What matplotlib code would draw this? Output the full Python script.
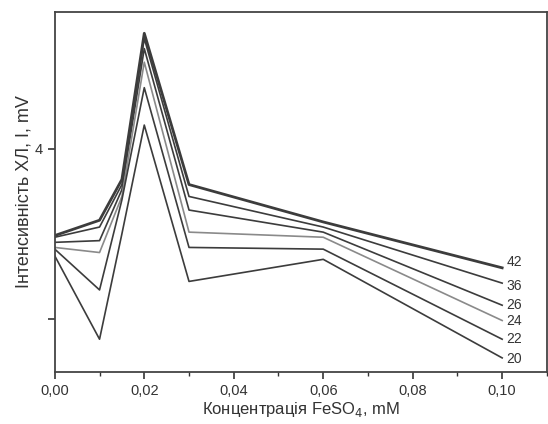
import matplotlib.pyplot as plt
from matplotlib.ticker import FixedLocator, MultipleLocator, FuncFormatter

plt.rcParams['font.family'] = ['Liberation Sans', 'DejaVu Sans']

# concentration of FeSO4, mM
conc = [0.0, 0.01, 0.015, 0.02, 0.03, 0.06, 0.10]

# chemiluminescence intensity, mV (one curve per label)
i42 = [3.49, 3.58, 3.82, 4.68, 3.79, 3.57, 3.30]
i36 = [3.48, 3.54, 3.79, 4.65, 3.72, 3.54, 3.21]
i26 = [3.45, 3.46, 3.76, 4.59, 3.64, 3.51, 3.08]
i24 = [3.42, 3.39, 3.72, 4.51, 3.51, 3.48, 2.99]
i22 = [3.41, 3.17, 3.70, 4.36, 3.42, 3.41, 2.88]
i20 = [3.37, 2.88, 3.50, 4.14, 3.22, 3.35, 2.77]

curves = [("42", i42), ("36", i36), ("26", i26),
          ("24", i24), ("22", i22), ("20", i20)]
label_dy = {"42": 4, "36": -2, "26": 0, "24": 0, "22": 0, "20": -1}

fig = plt.figure(figsize=(5.48, 4.24), dpi=100)
ax = fig.add_axes([0.100, 0.123, 0.898, 0.849])

for name, vals in curves:
    lw = 2.0 if name == "42" else 1.2
    col = "#8a8a8a" if name == "24" else "#3c3c3c"
    ax.plot(conc, vals, color=col, lw=lw)
    ax.annotate(name, (conc[-1], vals[-1]), xytext=(3, label_dy[name]),
                textcoords="offset points", va="center", ha="left",
                fontsize=10, color="#333333")

ax.set_xlim(0, 0.11)
ax.set_ylim(2.688, 4.806)

ax.xaxis.set_major_locator(FixedLocator([0.0, 0.02, 0.04, 0.06, 0.08, 0.10]))
ax.xaxis.set_minor_locator(MultipleLocator(0.01))
ax.xaxis.set_major_formatter(FuncFormatter(lambda v, p: f"{v:.2f}".replace(".", ",")))
ax.set_yticks([3, 4])
ax.set_yticklabels(["", "4"])

ax.tick_params(which="major", direction="out", length=5, width=1.2,
               labelsize=10.5, colors="#333333")
ax.tick_params(which="minor", direction="out", length=3, width=1.0,
               colors="#333333")

for sp in ax.spines.values():
    sp.set_linewidth(1.3)
    sp.set_color("#444444")

ax.set_xlabel("Концентрація FeSO$_4$, mM", fontsize=12, color="#333333",
              labelpad=2)
ax.set_ylabel("Інтенсивність ХЛ, I, mV", fontsize=13, color="#333333",
              labelpad=2)

fig.savefig("out.png", dpi=100)
